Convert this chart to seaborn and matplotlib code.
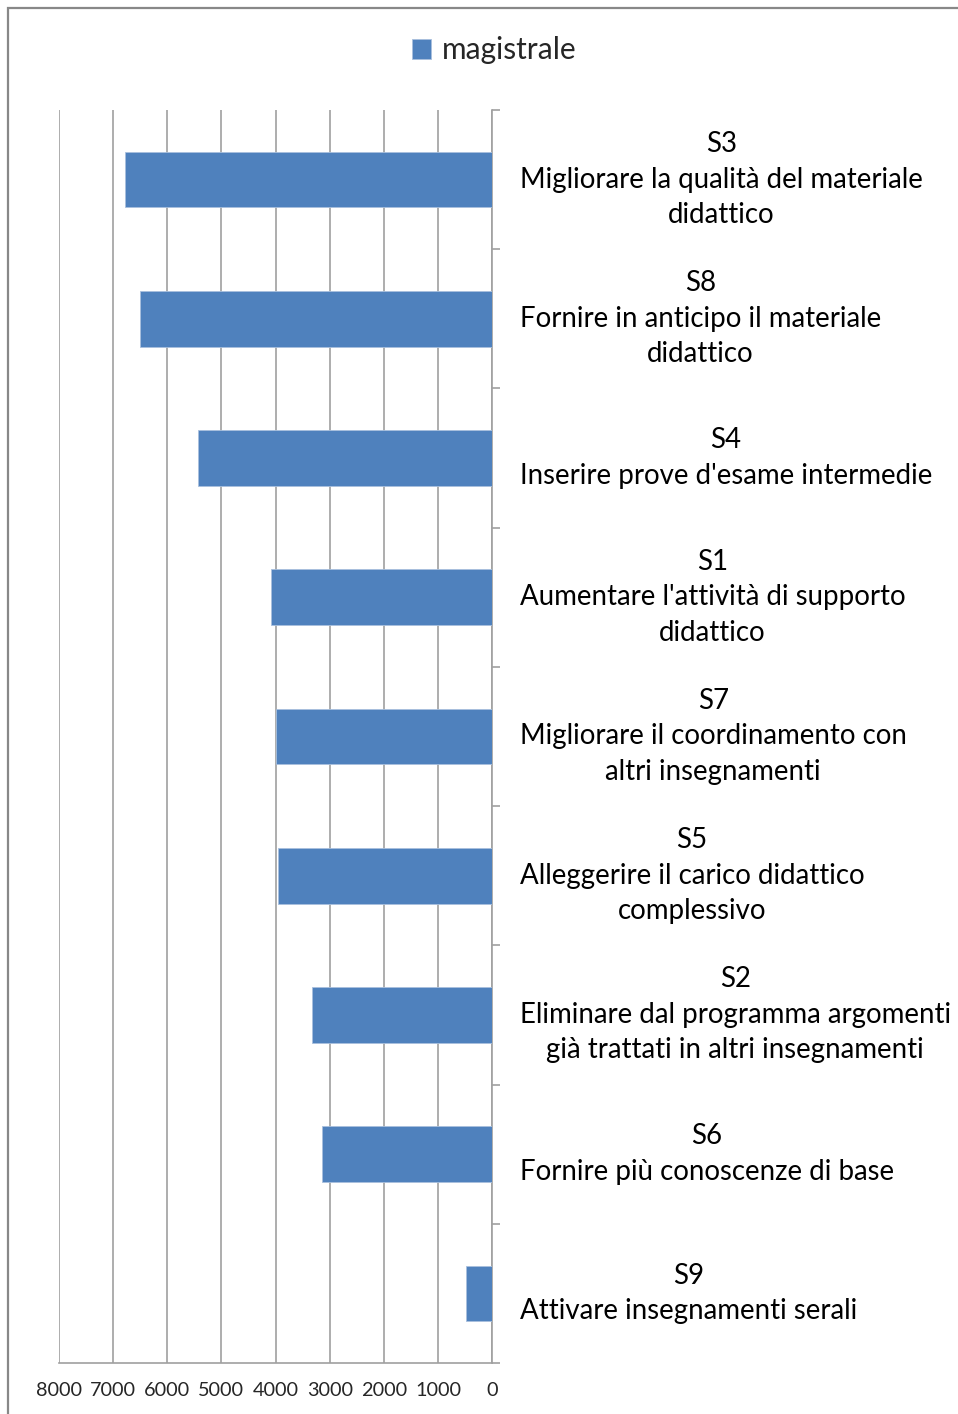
import matplotlib
matplotlib.use("Agg")
import matplotlib.pyplot as plt
import numpy as np
import pandas as pd
import seaborn as sns
from matplotlib.patches import Rectangle

codes = ["S3", "S8", "S4", "S1", "S7", "S5", "S2", "S6", "S9"]
descriptions = [
    "Migliorare la qualità del materiale\ndidattico",
    "Fornire in anticipo il materiale\ndidattico",
    "Inserire prove d'esame intermedie",
    "Aumentare l'attività di supporto\ndidattico",
    "Migliorare il coordinamento con\naltri insegnamenti",
    "Alleggerire il carico didattico\ncomplessivo",
    "Eliminare dal programma argomenti\ngià trattati in altri insegnamenti",
    "Fornire più conoscenze di base",
    "Attivare insegnamenti serali",
]
magistrale = [6775, 6510, 5430, 4075, 3990, 3955, 3320, 3135, 480]
x_ticks = [8000, 7000, 6000, 5000, 4000, 3000, 2000, 1000, 0]

labels = [c + "\n" + d for c, d in zip(codes, descriptions)]
df = pd.DataFrame({"voce": labels, "magistrale": magistrale})

sns.set_style("white")
plt.rcParams["font.family"] = ["Lato", "DejaVu Sans"]

fig = plt.figure(figsize=(9.58, 14.14), dpi=100)
ax = fig.add_axes([0.0616, 0.0361, 0.452, 0.8861])

bar_color = "#4f81bd"
sns.barplot(data=df, x="magistrale", y="voce", orient="h", color=bar_color,
            saturation=1, width=0.4, edgecolor="#a9c0dd", linewidth=0.6,
            ax=ax, zorder=3)

grid_c = "#a0a0a0"
ax.set_xlim(8000, 0)
ax.set_ylim(8.5, -0.5)
ax.set_xticks(x_ticks)
ax.set_xticklabels([str(t) for t in x_ticks], fontsize=14.3)
ax.xaxis.grid(True, color=grid_c, linewidth=1.2, zorder=0)
ax.set_axisbelow(True)
ax.set_xlabel("")
ax.set_ylabel("")

ax.yaxis.tick_right()
ax.set_yticks(range(len(labels)))
ax.set_yticklabels(labels, fontsize=19.9, linespacing=1.45)
for t in ax.get_yticklabels():
    t.set_multialignment("center")
    t.set_horizontalalignment("left")
    t.set_verticalalignment("center")
ax.set_yticks(np.arange(-0.5, len(labels), 1), minor=True)
ax.tick_params(axis="y", which="major", length=0, pad=20, labelcolor="black")
ax.tick_params(axis="y", which="minor", length=6, width=1.2, color=grid_c,
               right=True, left=False)
ax.tick_params(axis="x", length=5, width=1.2, color=grid_c, pad=9)

for s in ["top", "left"]:
    ax.spines[s].set_visible(False)
for s in ["bottom", "right"]:
    ax.spines[s].set_color(grid_c)
    ax.spines[s].set_linewidth(1.2)

fig.legend(handles=[ax.patches[0]], labels=["magistrale"], loc="center",
           bbox_to_anchor=(0.516, 0.9646), frameon=False, fontsize=21.5,
           handlelength=0.65, handleheight=0.65, handletextpad=0.35)

# chart area border
fig.patches.append(Rectangle((8 / 958, -0.1), 1.2, 1 - 8 / 1414 + 0.1,
                             transform=fig.transFigure, fill=False,
                             edgecolor="#888888", linewidth=1.6))

fig.savefig("out.png", dpi=100)
